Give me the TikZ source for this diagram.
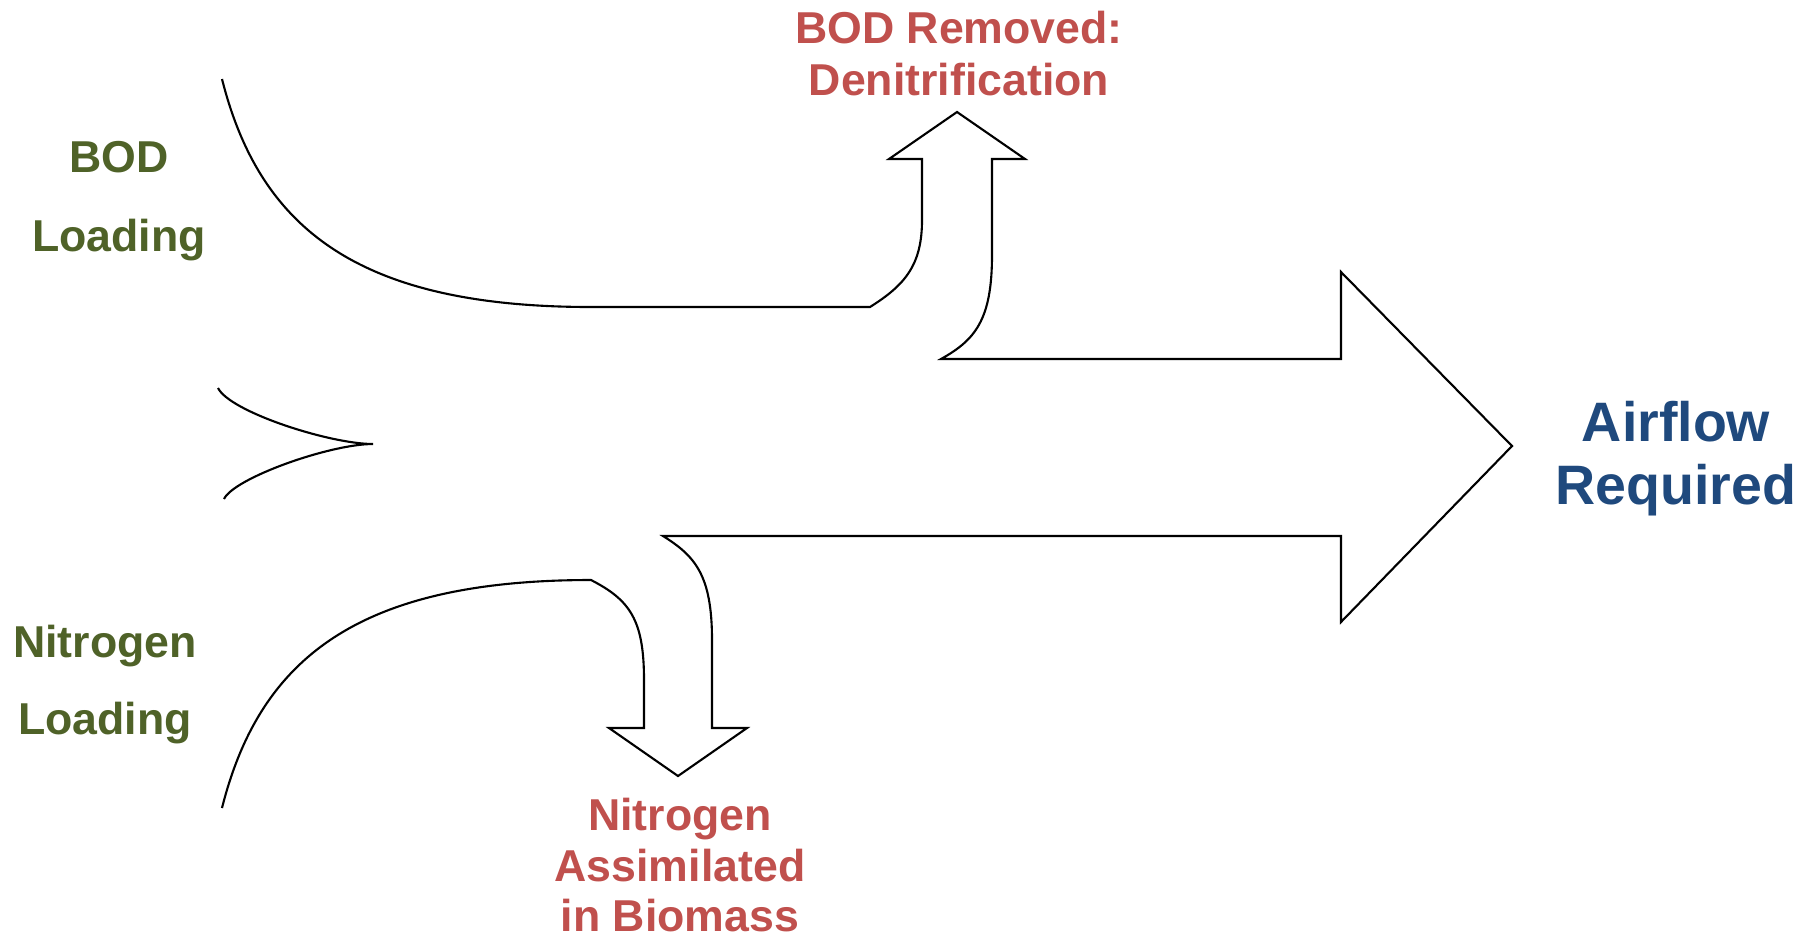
\documentclass[tikz,border=0pt]{standalone}
\usepackage{fontspec}
\setmainfont{Liberation Sans}
\definecolor{loadgreen}{RGB}{79,98,40}
\definecolor{remred}{RGB}{192,80,77}
\definecolor{airblue}{RGB}{31,73,125}
\begin{document}
\begin{tikzpicture}[x=0.01cm,y=-0.01cm,
  outline/.style={draw=black,line width=0.6pt,line join=miter},
  loadtxt/.style={anchor=base,inner sep=0pt,text=loadgreen,font=\fontsize{12.7}{15}\selectfont\bfseries},
  remtxt/.style={anchor=base,inner sep=0pt,text=remred,font=\fontsize{12.7}{15}\selectfont\bfseries},
  airtxt/.style={anchor=base,inner sep=0pt,text=airblue,font=\fontsize{15.8}{19}\selectfont\bfseries}]
\useasboundingbox (0,0) rectangle (1816,936);
% main flow outline
\draw[outline] (222,79) .. controls (260,230) and (360,307) .. (591,307)
  -- (870,307) .. controls (905,285) and (922,265) .. (922,220)
  -- (922,159) -- (889,159) -- (957,112) -- (1025,159) -- (992,159)
  -- (992,255) .. controls (992,320) and (975,340) .. (941,359)
  -- (1341,359) -- (1341,272) -- (1512,446) -- (1341,622) -- (1341,536)
  -- (663,536) .. controls (695,556) and (712,575) .. (712,640)
  -- (712,728) -- (747,728) -- (678,776) -- (609,728) -- (644,728)
  -- (644,680) .. controls (644,620) and (630,600) .. (591,580)
  .. controls (360,580) and (260,657) .. (222,808);
% merging cusp
\draw[outline] (218,388) .. controls (230,412) and (330,444) .. (373,444)
  .. controls (330,444) and (234,478) .. (224,499);
% labels
\node[loadtxt] (bod1) at (119,172) {BOD};
\node[loadtxt] (bod2) at (119,251) {Loading};
\node[loadtxt] (nit1) at (105,657) {Nitrogen};
\node[loadtxt] (nit2) at (105,734) {Loading};
\node[remtxt] (rem1) at (959,43) {BOD Removed:};
\node[remtxt] (rem2) at (959,95) {Denitrification};
\node[remtxt] (ass1) at (680,830) {Nitrogen};
\node[remtxt] (ass2) at (680,881) {Assimilated};
\node[remtxt] (ass3) at (680,931) {in Biomass};
\node[airtxt] (air1) at (1676,441) {Airflow};
\node[airtxt] (air2) at (1676,504) {Required};
\end{tikzpicture}
\end{document}
